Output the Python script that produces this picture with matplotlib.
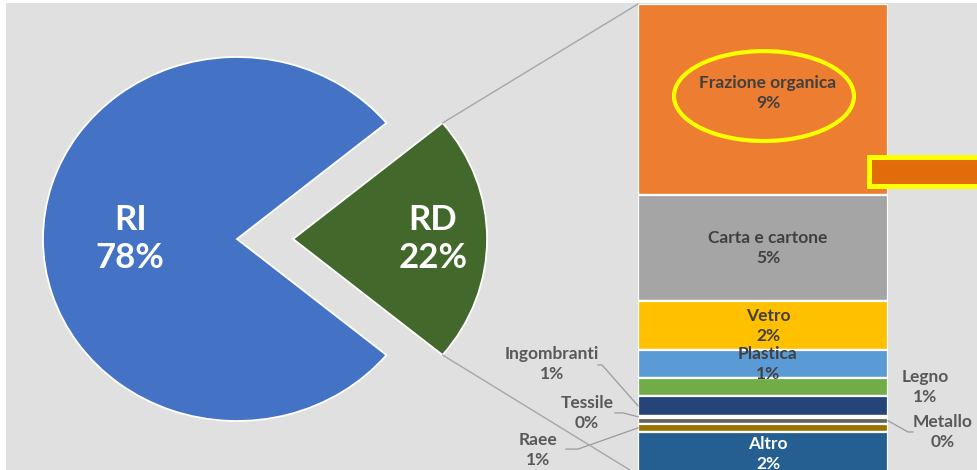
import matplotlib
matplotlib.use("Agg")
import matplotlib.pyplot as plt
import numpy as np
from matplotlib.patches import Rectangle, Ellipse, ConnectionPatch

plt.rcParams['font.family'] = ['Lato', 'DejaVu Sans']

# ---- data ----
pie_labels = ["RD", "RI"]
pie_values = [22, 78]
pie_colors = ["#43682B", "#4472C4"]

bar_labels = ["Frazione organica", "Carta e cartone", "Vetro", "Plastica", "Legno",
              "Ingombranti", "Tessile", "Metallo", "Raee", "Altro"]
bar_values = [8.90, 4.98, 2.29, 1.31, 0.82, 0.93, 0.10, 0.27, 0.40, 2.00]
bar_pct_labels = ["9%", "5%", "2%", "1%", "1%", "1%", "0%", "0%", "1%", "2%"]
bar_colors = ["#ED7D31", "#A5A5A5", "#FFC000", "#5B9BD5", "#70AD47",
              "#264478", "#9E480E", "#636363", "#997300", "#255E91"]

W, H = 978, 470
fig = plt.figure(figsize=(W / 100, H / 100), dpi=100)
fig.patch.set_facecolor("white")
fig.add_artist(Rectangle((6 / W, 0), 1, (H - 3) / H, transform=fig.transFigure,
                         facecolor="#E0E0E0", edgecolor="none", zorder=-10))

def fax(left, bottom, width, height):
    return fig.add_axes([left / W, bottom / H, width / W, height / H])

# ---- pie ----
axp = fax(23.6, 30.8, 504.4, 400.4)
axp.set_facecolor("none")
half = pie_values[0] / sum(pie_values) * 360 / 2
explode = [0.289, 0]
wedges, _ = axp.pie(pie_values, colors=pie_colors, startangle=-half, explode=explode,
                    wedgeprops=dict(edgecolor="white", linewidth=1.3))
axp.set_aspect("auto")
axp.set_xlim(-1.1, 1.5)
axp.set_ylim(-1.1, 1.1)
axp.axis("off")
pct = [f"{v / sum(pie_values) * 100:.0f}%" for v in pie_values]
axp.text(1.01, 0.0, f"{pie_labels[0]}\n{pct[0]}", color="white", fontsize=25,
         fontweight="bold", ha="center", va="center", linespacing=1.25)
axp.text(-0.55, 0.0, f"{pie_labels[1]}\n{pct[1]}", color="white", fontsize=25,
         fontweight="bold", ha="center", va="center", linespacing=1.25)

# ---- bar ----
axb = fax(638, -5, 250, 471)
axb.set_facecolor("none")
total = sum(bar_values)
bottoms = [sum(bar_values[i + 1:]) for i in range(len(bar_values))]
for v, b, c in zip(bar_values, bottoms, bar_colors):
    axb.bar(0, v, bottom=b, width=1.0, color=c, edgecolor="white", linewidth=1.6)
axb.set_xlim(-0.5, 0.5)
axb.set_ylim(0, total)
axb.axis("off")

FS = 12.5
inside = {"Frazione organica", "Carta e cartone", "Vetro", "Plastica", "Altro"}
for lab, p, v, b in zip(bar_labels, bar_pct_labels, bar_values, bottoms):
    if lab in inside:
        col = "white" if lab == "Altro" else "#404040"
        dy = 0.3 if lab == "Frazione organica" else 0.0
        axb.text(0.02, b + v / 2 + dy, f"{lab}\n{p}", ha="center", va="center", fontsize=FS,
                 fontweight="bold", color=col, linespacing=1.3, zorder=5)

# outside labels: (label position, bend points) in bar-axes units
outside = {
    "Ingombranti": ((-0.844, 5.18), [(-0.644, 5.14), (-0.66, 5.14)]),
    "Tessile": ((-0.704, 2.90), [(-0.56, 2.90), (-0.592, 2.90)]),
    "Raee": ((-0.90, 1.17), [(-0.74, 1.21), (-0.788, 1.21)]),
    "Legno": ((0.648, 4.11), None),
    "Metallo": ((0.72, 2.01), [(0.58, 2.01), (0.60, 2.01)]),
}
for lab, p, v, b in zip(bar_labels, bar_pct_labels, bar_values, bottoms):
    if lab in outside:
        (tx, ty), bend = outside[lab]
        axb.text(tx, ty, f"{lab}\n{p}", ha="center", va="center", fontsize=FS,
                 fontweight="bold", color="#595959", linespacing=1.3, clip_on=False)
        if bend is not None:
            ex = -0.5 if tx < 0 else 0.5
            xs = [ex] + [q[0] for q in bend]
            ys = [b + v / 2] + [q[1] for q in bend]
            axb.plot(xs, ys, color="#9A9A9A", lw=0.9, clip_on=False)

# ---- connectors ----
theta = np.deg2rad(half)
for sgn, ybar in [(1, total), (-1, 0)]:
    x0 = explode[0] + np.cos(theta)
    y0 = sgn * np.sin(theta)
    con = ConnectionPatch(xyA=(-0.5, ybar), coordsA=axb.transData,
                          xyB=(x0, y0), coordsB=axp.transData,
                          color="#A6A6A6", linewidth=1.0)
    fig.add_artist(con)

# ---- highlight annotations ----
axb.add_patch(Ellipse((0.004, 17.70), 0.72, 4.2, fill=False, edgecolor="#FFFF00",
                      linewidth=3.0, zorder=6, clip_on=False))
axb.add_patch(Rectangle((0.426, 13.52), 0.46, 1.355, facecolor="#E36C0A",
                        edgecolor="#FFFF00", linewidth=3.6, zorder=6, clip_on=False))

fig.savefig("out.png", dpi=100, facecolor=fig.get_facecolor())
